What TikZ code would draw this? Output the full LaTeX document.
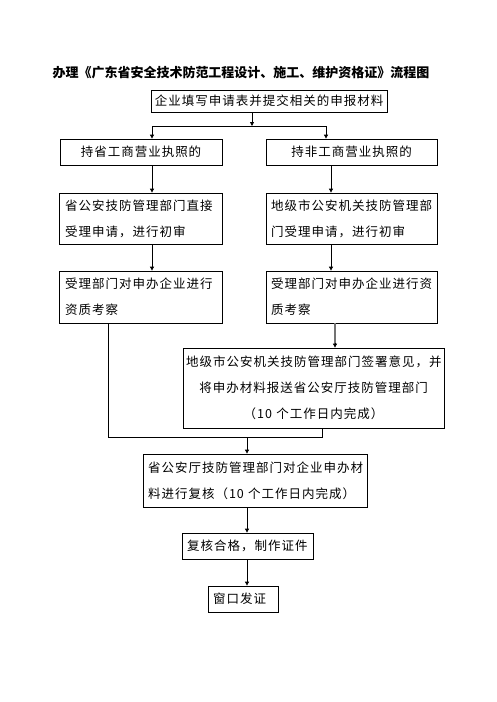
\documentclass[tikz,border=0pt]{standalone}
\usepackage{fontspec}
\usetikzlibrary{arrows.meta,calc}
\newfontfamily\cjk[LetterSpace=8]{Noto Sans CJK SC}
\newfontfamily\cjkt{Noto Sans CJK SC}
\tikzset{
  box/.style={draw, line width=0.8pt, inner sep=0pt, font=\cjk\fontsize{12.5}{26}\selectfont},
  lbox/.style={box, align=left},
  cbox/.style={box, align=center},
  arr/.style={line width=0.8pt, -{Triangle[length=4pt,width=4pt]}},
  ln/.style={line width=0.8pt},
  gln/.style={line width=1.2pt, draw=black!55}
}
\begin{document}
\begin{tikzpicture}[x=1pt,y=-1pt]
\useasboundingbox (0,0) rectangle (496,702);
\node[font=\cjkt\bfseries\fontsize{13}{15}\selectfont] (title) at (241,73) {办理《广东省安全技术防范工程设计、施工、维护资格证》流程图};
\node[box, minimum width=236pt, minimum height=22pt] (b1) at (269,101) {企业填写申请表并提交相关的申报材料};
\node[box, minimum width=162pt, minimum height=26pt] (b2L) at (141,152) {持省工商营业执照的};
\node[box, minimum width=171pt, minimum height=26pt] (b2R) at (351.5,152) {持非工商营业执照的};
\node[lbox, minimum width=163pt, minimum height=51pt, text width=151pt] (b3L) at (140.5,218.5) {省公安技防管理部门直接\\受理申请，进行初审};
\node[lbox, minimum width=171pt, minimum height=51pt, text width=161pt] (b3R) at (351.5,218.5) {地级市公安机关技防管理部\\门受理申请，进行初审};
\node[lbox, minimum width=163pt, minimum height=52pt, text width=151pt] (b4L) at (140.5,297) {受理部门对申办企业进行\\资质考察};
\node[lbox, minimum width=171pt, minimum height=52pt, text width=161pt] (b4R) at (351.5,297) {受理部门对申办企业进行资\\质考察};
\node[cbox, minimum width=261pt, minimum height=80pt, text width=255pt] (b5) at (313.5,388) {地级市公安机关技防管理部门签署意见，并\\将申办材料报送省公安厅技防管理部门\\（10 个工作日内完成）};
\node[lbox, minimum width=224pt, minimum height=53pt, text width=214pt] (b6) at (255,480.5) {省公安厅技防管理部门对企业申办材\\料进行复核（10 个工作日内完成）};
\node[lbox, minimum width=131pt, minimum height=26pt, text width=121pt] (b7) at (247.5,546) {复核合格，制作证件};
\node[lbox, minimum width=70pt, minimum height=26pt, text width=60pt] (b8) at (243,599) {窗口发证};
\coordinate (sp) at (252,126);
\coordinate (spL) at (152,126);
\coordinate (spR) at (326,126);
\coordinate (xL) at (152,0);
\coordinate (xR) at (331,0);
\coordinate (xR2) at (335,0);
\coordinate (xLL) at (108,0);
\coordinate (xMr) at (322,0);
\coordinate (mj) at (247,437);
\draw[arr] (b1.south -| sp) -- (sp);
\draw[ln] (spL) -- (spR);
\draw[arr] (spL) -- (spL |- b2L.north);
\draw[arr] (spR) -- (spR |- b2R.north);
\draw[arr] (b2L.south -| xL) -- (b3L.north -| xL);
\draw[arr] (b2R.south -| xR) -- (b3R.north -| xR);
\draw[arr] (b3L.south -| xL) -- (b4L.north -| xL);
\draw[arr] (b3R.south -| xR) -- (b4R.north -| xR);
\draw[gln] (b4R.south -| xR2) -- ($(b5.north -| xR2)+(0,-4)$);
\draw[arr] ($(b5.north -| xR2)+(0,-5)$) -- (b5.north -| xR2);
\draw[ln] (b4L.south -| xLL) |- (xMr |- mj) -- (b5.south -| xMr);
\draw[arr] (mj) -- (b6.north -| mj);
\draw[arr] (b6.south -| mj) -- (b7.north -| mj);
\draw[arr] (b7.south -| mj) -- (b8.north -| mj);
\end{tikzpicture}
\end{document}
